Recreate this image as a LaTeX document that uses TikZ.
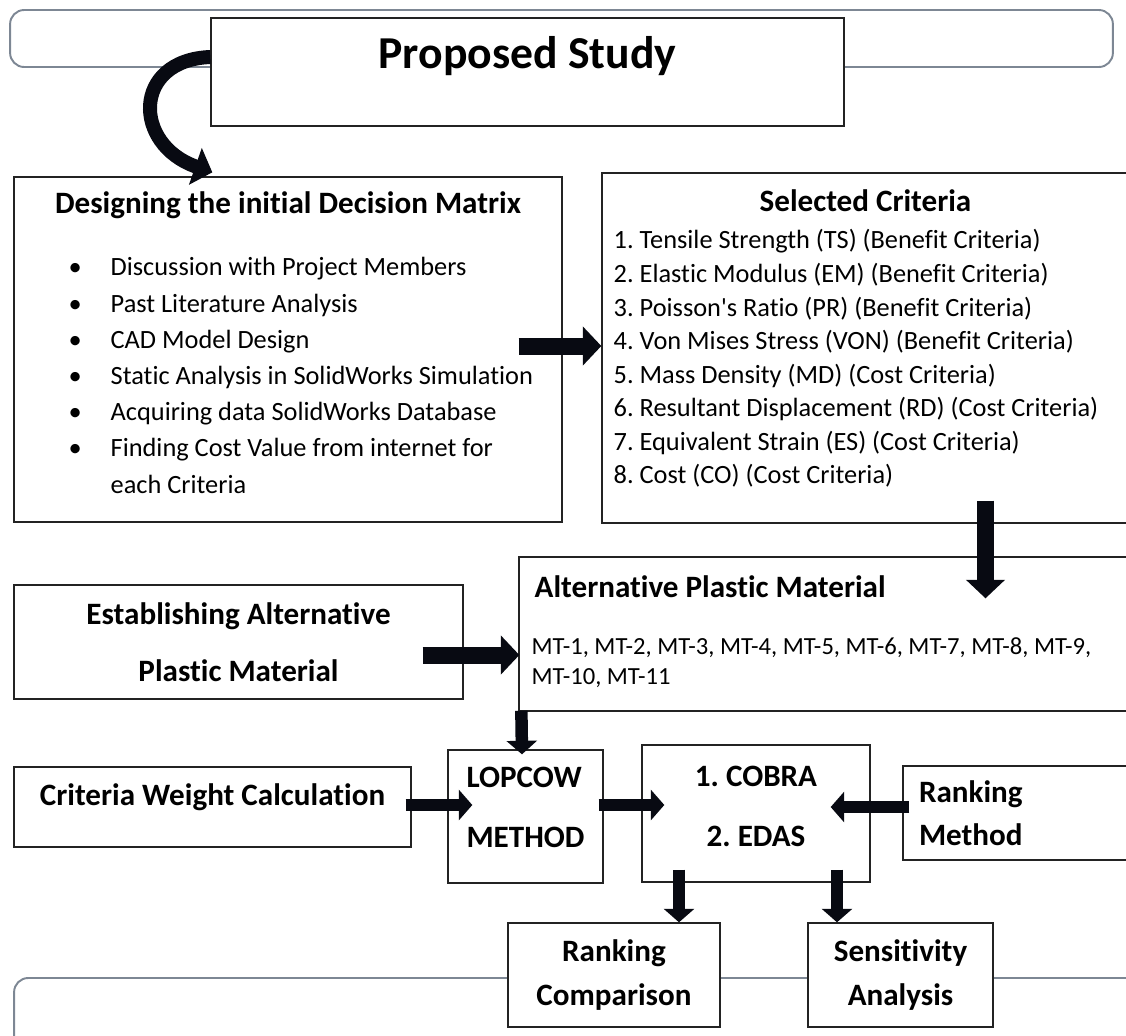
\documentclass[tikz,border=0pt]{standalone}
\usepackage{fontspec}
\setmainfont{Carlito}[Ligatures={TeX,NoCommon}]
\frenchspacing
\definecolor{boxLine}{RGB}{35,35,35}
\definecolor{bandGray}{RGB}{125,135,148}
\definecolor{arrowBlack}{RGB}{8,10,18}
\usetikzlibrary{arrows.meta,calc}
\newcommand{\bul}{\makebox[0.84cm][l]{\textbullet}}

\begin{document}
\begin{tikzpicture}[x=0.02cm, y=-0.02cm,
  box/.style={draw=boxLine, line width=0.8pt, fill=white, inner sep=0pt,
              font=\fontsize{17.7}{21}\selectfont\bfseries},
  band/.style={draw=bandGray, line width=1.1pt, rounded corners=8pt, inner sep=0pt},
  head/.style={inner sep=0pt, font=\fontsize{17.7}{21}\selectfont\bfseries},
  list/.style={inner sep=0pt, align=left},
  arr/.style={draw=arrowBlack, line width=0.34cm, -{Triangle[length=0.37cm,width=0.76cm]}},
  sarr/.style={draw=arrowBlack, line width=0.25cm, -{Triangle[length=0.27cm,width=0.6cm]}},
  carr/.style={draw=arrowBlack, line width=0.28cm, -{Triangle[length=0.36cm,width=0.76cm]}}
]
  \useasboundingbox (0,0) rectangle (1126,1035);

  % bands behind the boxes
  \node[band, minimum width=22.06cm, minimum height=1.14cm] (topband) at (561.5,38.5) {};
  \node[band, minimum width=22.6cm, minimum height=1.7cm] (botband) at (579,1020.5) {};

  % boxes
  \node[box, minimum width=12.66cm, minimum height=2.16cm, text height=1.0cm, text depth=1.16cm,
        font=\fontsize{26}{30}\selectfont\bfseries] (title) at (527.5,72) {Proposed Study};
  \node[box, minimum width=10.96cm, minimum height=6.9cm] (design) at (288,349.5) {};
  \node[box, minimum width=10.54cm, minimum height=7cm] (crit) at (865.5,348) {};
  \node[box, minimum width=12.2cm, minimum height=3.08cm] (alt) at (824,634) {};
  \node[box, minimum width=8.98cm, minimum height=2.28cm, align=center,
        font=\fontsize{17.7}{32.3}\selectfont\bfseries] (estab) at (238.5,642)
        {Establishing Alternative\\Plastic Material};
  \node[box, minimum width=7.94cm, minimum height=1.6cm, text height=0.76cm, text depth=0.84cm]
        (weight) at (212.5,807) {Criteria Weight Calculation};
  \node[box, minimum width=3.1cm, minimum height=2.66cm, align=left, text depth=0.36cm,
        font=\fontsize{17.7}{34}\selectfont\bfseries] (lopcow) at (525.5,816.5) {LOPCOW\\METHOD};
  \node[box, minimum width=4.56cm, minimum height=2.74cm, align=center, text depth=0.28cm,
        font=\fontsize{17.7}{34}\selectfont\bfseries] (cobra) at (756,813.5) {1. COBRA\\2. EDAS};
  \node[box, minimum width=4.52cm, minimum height=1.88cm, inner xsep=0.32cm, text width=3.88cm, align=left,
        font=\fontsize{17.7}{24.4}\selectfont\bfseries] (rankm) at (1016,813) {Ranking\\Method};
  \node[box, minimum width=4.24cm, minimum height=2.08cm, align=center,
        font=\fontsize{17.7}{25}\selectfont\bfseries] (rcomp) at (614,975) {Ranking\\Comparison};
  \node[box, minimum width=3.7cm, minimum height=2.08cm, align=center,
        font=\fontsize{17.7}{25}\selectfont\bfseries] (sens) at (900.5,975) {Sensitivity\\Analysis};

  % texts inside the large boxes
  \node[head, anchor=base] (designhead) at ($(design.north)+(0,37)$) {Designing the initial Decision Matrix};
  \node[list, anchor=north west, font=\fontsize{15}{20.6}\selectfont] (designlist)
        at ($(design.north west)+(55,81)$) {\bul Discussion with Project Members\\
        \bul Past Literature Analysis\\
        \bul CAD Model Design\\
        \bul Static Analysis in SolidWorks Simulation\\
        \bul Acquiring data SolidWorks Database\\
        \bul Finding Cost Value from internet for\\
        \hspace*{0.84cm}each Criteria};
  \node[head, anchor=base] (crithead) at ($(crit.north)+(0,39)$) {Selected Criteria};
  \node[list, anchor=north west, font=\fontsize{15}{19.1}\selectfont] (critlist)
        at ($(crit.north west)+(12,57)$) {1. Tensile Strength (TS) (Benefit Criteria)\\
        2. Elastic Modulus (EM) (Benefit Criteria)\\
        3. Poisson\textquotesingle s Ratio (PR) (Benefit Criteria)\\
        4. Von Mises Stress (VON) (Benefit Criteria)\\
        5. Mass Density (MD) (Cost Criteria)\\
        6. Resultant Displacement (RD) (Cost Criteria)\\
        7. Equivalent Strain (ES) (Cost Criteria)\\
        8. Cost (CO) (Cost Criteria)};
  \node[head, anchor=base west] (althead) at ($(alt.north west)+(16,41)$) {Alternative Plastic Material};
  \node[list, anchor=north west, font=\fontsize{14}{17}\selectfont] (altlist)
        at ($(alt.north west)+(13,81)$) {MT-1, MT-2, MT-3, MT-4, MT-5, MT-6, MT-7, MT-8, MT-9,\\MT-10, MT-11};

  % connectors
  \draw[carr] ($(title.west)+(0,-15)$) .. controls +(-78,3) and +(-80,-28) .. ($(design.north west)+(199,-4)$);
  \draw[arr] ($(design.east)+(-44,-3.5)$) -- ($(crit.west)+(0,-2)$);
  \draw[arr] ($(crit.south)+(120,-23)$) -- ($(alt.north)+(161.5,42)$);
  \draw[arr] ($(estab.east)+(-41,13)$) -- ($(alt.west)+(1,21)$);
  \draw[sarr] ($(alt.south west)+(3,-1)$) -- ($(lopcow.north)+(-3.5,5)$);
  \draw[sarr] ($(weight.east)+(-6,-2)$) -- ($(lopcow.west)+(25,-11.5)$);
  \draw[sarr] ($(lopcow.east)+(-5,-11.5)$) -- ($(cobra.west)+(23,-8.5)$);
  \draw[sarr] ($(rankm.west)+(7,-6)$) -- ($(cobra.east)+(-40,-6.5)$);
  \draw[sarr] ($(cobra.south)+(-77,-13)$) -- ($(rcomp.north)+(65,0)$);
  \draw[sarr] ($(cobra.south)+(81,-13)$) -- ($(sens.north)+(-63.5,0)$);
\end{tikzpicture}
\end{document}
